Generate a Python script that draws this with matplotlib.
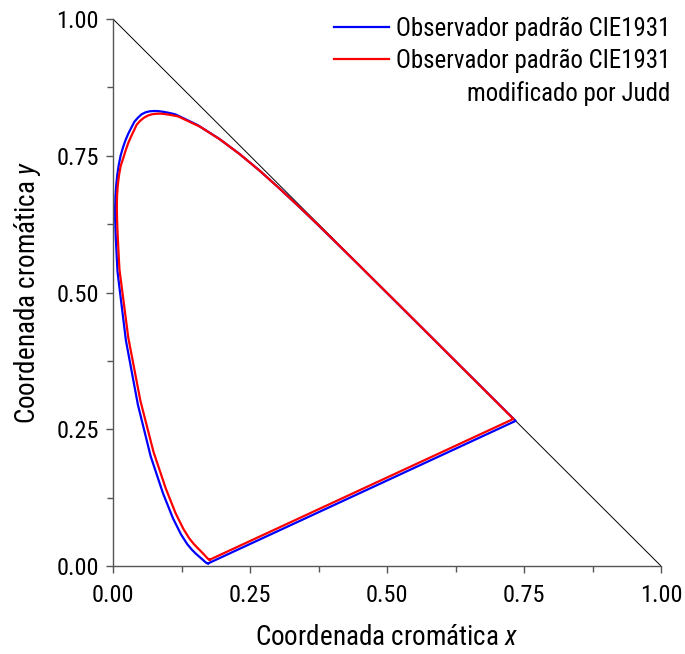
import matplotlib
matplotlib.use("Agg")
import matplotlib.pyplot as plt
from matplotlib import font_manager

names = {f.name for f in font_manager.fontManager.ttflist}
fam = 'Roboto'
for cand in ['Liberation Sans Narrow', 'Roboto Condensed', 'Open Sans Condensed']:
    if cand in names:
        fam = cand
        break
plt.rcParams['font.family'] = [fam, 'DejaVu Sans']
plt.rcParams['mathtext.fontset'] = 'custom'
plt.rcParams['mathtext.it'] = fam + ':italic'
plt.rcParams['mathtext.rm'] = fam

# CIE 1931 spectral locus (x, y), 380-700 nm
cie_x = [0.1741, 0.1738, 0.1733, 0.1726, 0.1714, 0.1703, 0.1689, 0.1669, 0.1644,
         0.1611, 0.1566, 0.1510, 0.1440, 0.1355, 0.1241, 0.1096, 0.0913, 0.0687,
         0.0454, 0.0235,
         0.0082, 0.0070, 0.0058, 0.0047, 0.0040,
         0.0039, 0.0045, 0.0059, 0.0078, 0.0105,
         0.0139, 0.0183, 0.0230, 0.0281, 0.0334,
         0.0389, 0.0454, 0.0521, 0.0592, 0.0666,
         0.0743, 0.0821, 0.0900, 0.0980, 0.1061,
         0.1142, 0.1547,
         0.1929, 0.2296, 0.2658, 0.3016, 0.3373, 0.3731, 0.4087, 0.4441, 0.4788,
         0.5125, 0.5448, 0.5752, 0.6029, 0.6270, 0.6482, 0.6658, 0.6801, 0.6915,
         0.7006, 0.7079, 0.7140, 0.7190, 0.7230, 0.7260, 0.7300, 0.7320, 0.7347]
cie_y = [0.0050, 0.0049, 0.0048, 0.0048, 0.0051, 0.0058, 0.0069, 0.0086, 0.0109,
         0.0138, 0.0177, 0.0227, 0.0297, 0.0399, 0.0578, 0.0868, 0.1327, 0.2007,
         0.2950, 0.4127,
         0.5384, 0.5622, 0.5858, 0.6092, 0.6323,
         0.6548, 0.6763, 0.6963, 0.7151, 0.7331,
         0.7502, 0.7654, 0.7789, 0.7908, 0.8012,
         0.8120, 0.8195, 0.8257, 0.8293, 0.8312,
         0.8318, 0.8316, 0.8306, 0.8292, 0.8275,
         0.8255, 0.8059,
         0.7816, 0.7543, 0.7243, 0.6923, 0.6589, 0.6245, 0.5896, 0.5547, 0.5202,
         0.4866, 0.4544, 0.4242, 0.3965, 0.3725, 0.3514, 0.3340, 0.3197, 0.3083,
         0.2993, 0.2920, 0.2859, 0.2809, 0.2770, 0.2740, 0.2700, 0.2680, 0.2653]

# Judd-modified spectral locus (x, y)
judd_x = [0.1765, 0.1763, 0.1760, 0.1755, 0.1745, 0.1733, 0.1718, 0.1697, 0.1672,
          0.1640, 0.1597, 0.1543, 0.1475, 0.1392, 0.1283, 0.1142, 0.0962, 0.0738,
          0.0500, 0.0278,
          0.0118, 0.0105, 0.0093, 0.0082, 0.0074,
          0.0070, 0.0074, 0.0088, 0.0110, 0.0140,
          0.0189, 0.0235, 0.0282, 0.0332, 0.0383,
          0.0432, 0.0497, 0.0565, 0.0636, 0.0712,
          0.0790, 0.0868, 0.0948, 0.1028, 0.1109,
          0.1190, 0.1590,
          0.1965, 0.2330, 0.2690, 0.3045, 0.3400, 0.3755, 0.4105, 0.4455, 0.4800,
          0.5135, 0.5455, 0.5755, 0.6030, 0.6270, 0.6480, 0.6655, 0.6795, 0.6905,
          0.6995, 0.7065, 0.7120, 0.7165, 0.7200, 0.7230, 0.7270, 0.7290, 0.7310]
judd_y = [0.0115, 0.0114, 0.0113, 0.0114, 0.0122, 0.0132, 0.0147, 0.0170, 0.0198,
          0.0232, 0.0276, 0.0330, 0.0402, 0.0505, 0.0680, 0.0965, 0.1420, 0.2090,
          0.3020, 0.4180,
          0.5420, 0.5655, 0.5888, 0.6118, 0.6343,
          0.6560, 0.6770, 0.6965, 0.7147, 0.7312,
          0.7462, 0.7610, 0.7742, 0.7857, 0.7963,
          0.8068, 0.8140, 0.8195, 0.8235, 0.8258,
          0.8268, 0.8270, 0.8262, 0.8250, 0.8235,
          0.8218, 0.8030,
          0.7790, 0.7515, 0.7215, 0.6895, 0.6565, 0.6225, 0.5880, 0.5535, 0.5190,
          0.4860, 0.4540, 0.4240, 0.3965, 0.3725, 0.3515, 0.3340, 0.3200, 0.3090,
          0.3000, 0.2930, 0.2875, 0.2830, 0.2795, 0.2765, 0.2725, 0.2705, 0.2690]

labels = ['Observador padrão CIE1931', 'Observador padrão CIE1931']
label_extra = 'modificado por Judd'
ticks = [0.0, 0.25, 0.5, 0.75, 1.0]
tick_labels = ['0.00', '0.25', '0.50', '0.75', '1.00']

LEG_FS = 17.9
LEG_SP = 0.32

fig = plt.figure(figsize=(6.85, 6.54), dpi=100)
ax = fig.add_axes([113/685, 1-566/654, 548/685, 547/654])

ax.plot([0, 1], [1, 0], color='black', lw=0.7, zorder=1)
l1, = ax.plot(cie_x + [cie_x[0]], cie_y + [cie_y[0]], color='#0000ff', lw=1.6, zorder=2)
l2, = ax.plot(judd_x + [judd_x[0]], judd_y + [judd_y[0]], color='#ff0000', lw=1.6, zorder=3)

ax.set_xlim(0, 1)
ax.set_ylim(0, 1)
ax.set_xticks(ticks)
ax.set_xticklabels(tick_labels)
ax.set_yticks(ticks)
ax.set_yticklabels(tick_labels)
ax.set_xticks([0.125, 0.375, 0.625, 0.875], minor=True)
ax.set_yticks([0.125, 0.375, 0.625, 0.875], minor=True)
for s in ['top', 'right']:
    ax.spines[s].set_visible(False)
for s in ['left', 'bottom']:
    ax.spines[s].set_color('#555555')
    ax.spines[s].set_linewidth(1.0)
ax.tick_params(which='major', length=5, width=1, color='#555555', labelsize=17.5)
ax.tick_params(which='minor', length=4, width=1, color='#555555')
ax.tick_params(axis='x', which='major', pad=8)
ax.tick_params(axis='y', which='major', pad=5)

ax.set_xlabel('Coordenada cromática $x$', fontsize=19.5, labelpad=12)
ax.set_ylabel('Coordenada cromática $y$', fontsize=19.5, labelpad=10)

leg = ax.legend([l1, l2], labels, loc='upper right', frameon=False, fontsize=LEG_FS,
                handlelength=2.2, handletextpad=0.29, labelspacing=LEG_SP,
                bbox_to_anchor=(1.058, 1.045))

fig.canvas.draw()
bb = leg.get_texts()[1].get_window_extent(fig.canvas.get_renderer())
fig.text(bb.x1 / fig.bbox.width, (bb.y0 - LEG_SP * LEG_FS * 100 / 72) / fig.bbox.height,
         label_extra, ha='right', va='top', fontsize=LEG_FS)

fig.savefig('out.png', dpi=100)
